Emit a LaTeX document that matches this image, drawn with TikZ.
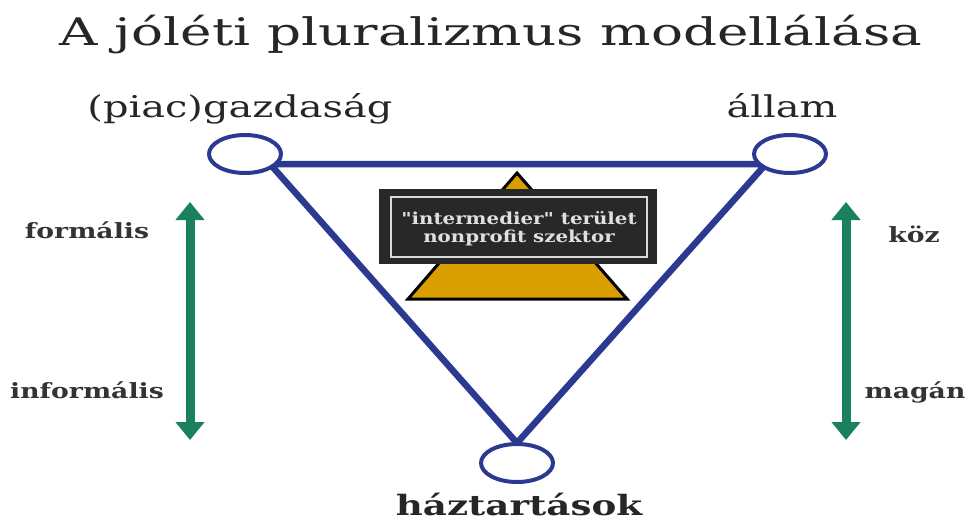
\documentclass[tikz,border=0pt]{standalone}
\usepackage{fontspec}
\setmainfont{DejaVu Serif}
\newfontfamily\boxfont[Ligatures=TeXOff]{DejaVu Serif}
\usetikzlibrary{arrows.meta,shapes.geometric}
\definecolor{triblue}{RGB}{43,57,144}
\definecolor{arrgreen}{RGB}{26,128,94}
\definecolor{gold}{RGB}{217,158,0}
\definecolor{boxgray}{RGB}{40,40,40}
\begin{document}
\begin{tikzpicture}[x=1pt,y=-1pt,
  corner/.style={draw=triblue,line width=4pt,ellipse,minimum width=72pt,minimum height=38pt,inner sep=0pt,fill=white},
  cornerlabel/.style={font=\fontsize{30}{33}\selectfont,text=black!85,xscale=1.33,anchor=base},
  sidelabel/.style={font=\fontsize{21}{24}\selectfont\bfseries,text=black!80,xscale=1.27,anchor=base},
  edge/.style={draw=triblue,line width=6.5pt,line cap=round,line join=round},
  scalearrow/.style={draw=arrgreen,line width=9pt,{Triangle[width=28pt,length=18pt]}-{Triangle[width=28pt,length=18pt]}}
]
\useasboundingbox (0,0) rectangle (968,522);
\node[font=\fontsize{38}{42}\selectfont,text=black!85,xscale=1.4,anchor=base] (title) at (491,45) {A jóléti pluralizmus modellálása};
% triangle edges
\coordinate (tl) at (270,164);
\coordinate (tr) at (766,164);
\coordinate (bt) at (517,443);
\draw[edge] (tl) -- (tr) -- (bt) -- cycle;
\node[corner] (gazd) at (245,154) {};
\node[corner] (allam) at (790,154) {};
\node[corner] (haz) at (517,463) {};
\node[cornerlabel] (lgazd) at (240,117) {(piac)gazdaság};
\node[cornerlabel] (lallam) at (782,117) {állam};
\node[cornerlabel,font=\fontsize{28}{31}\selectfont\bfseries,xscale=1.0,inner sep=1pt] (lhaz) at (519,515) {háztartások};
% gold triangle
\coordinate (ga) at (517,173);
\coordinate (gl) at (408,299);
\coordinate (gr) at (627,299);
\draw[fill=gold,draw=black,line width=3pt,line join=miter] (ga) -- (gr) -- (gl) -- cycle;
% box
\node[fill=boxgray,minimum width=278pt,minimum height=75pt,inner sep=0pt] (box) at (518,226.5) {};
\node[draw=white!85!black,line width=1.5pt,minimum width=256pt,minimum height=60pt,inner sep=0pt] (frame) at (519,227) {};
\node[font=\boxfont\fontsize{16.5}{18}\selectfont\bfseries,text=white!88!black,align=center,xscale=1.2] (boxtext) at (519,229)
  {"intermedier" terület\\nonprofit szektor};
% arrows
\coordinate (la1) at (190,202);
\coordinate (la2) at (190,440);
\coordinate (ra1) at (846,202);
\coordinate (ra2) at (846,440);
\draw[scalearrow] (la1) -- (la2);
\draw[scalearrow] (ra1) -- (ra2);
\node[sidelabel] (formal) at (87,238) {formális};
\node[sidelabel] (informal) at (87,398) {informális};
\node[sidelabel] (koz) at (914,242) {köz};
\node[sidelabel] (magan) at (915,398) {magán};
\end{tikzpicture}
\end{document}
